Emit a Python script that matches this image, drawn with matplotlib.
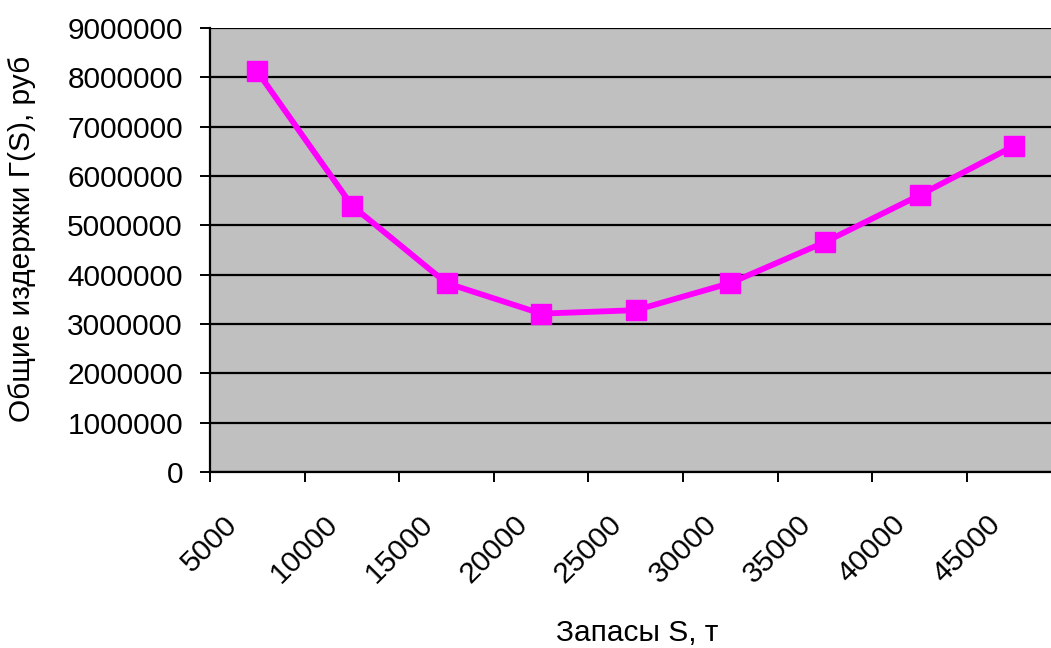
#!/usr/bin/env python3
""" Total costs vs stock level, Excel-style line chart. """

import matplotlib
matplotlib.use("Agg")
import matplotlib.pyplot as plt
from matplotlib.ticker import MultipleLocator, StrMethodFormatter

plt.rcParams["font.family"] = ["Liberation Sans", "DejaVu Sans"]

# data
stock = [7500, 12500, 17500, 22500, 27500, 32500, 37500, 42500, 47500]
costs = [8120000, 5400000, 3830000, 3210000, 3280000, 3830000, 4660000,
         5610000, 6610000]

fig = plt.figure(figsize=(10.51, 6.48), dpi=100)
ax = fig.add_axes([210 / 1051, 1 - 472 / 648, 841 / 1051, 444 / 648])

ax.set_facecolor("#C0C0C0")
ax.plot(stock, costs, color="#FF00FF", linewidth=4.2, marker="s",
        markersize=14.5, zorder=3)

ax.set_xlim(5000, 49450)
ax.set_ylim(0, 9000000)
ax.yaxis.set_major_locator(MultipleLocator(1000000))
ax.yaxis.set_major_formatter(StrMethodFormatter("{x:.0f}"))
ax.set_xticks(range(5000, 45001, 5000))

ax.grid(axis="y", color="black", linewidth=1.6)
ax.set_axisbelow(True)
for side in ("right", "top"):
    ax.spines[side].set_visible(False)
for side in ("left", "bottom"):
    ax.spines[side].set_linewidth(1.6)

ax.tick_params(axis="both", direction="out", length=7.5, width=1.4,
               labelsize=21.5)
ax.tick_params(axis="y", pad=12)
ax.tick_params(axis="x", pad=20)
for lbl in ax.get_xticklabels():
    lbl.set_rotation(45)
    lbl.set_ha("center")
    lbl.set_va("top")

ax.set_xlabel("Запасы S, т", fontsize=21.5, va="center")
ax.xaxis.set_label_coords(0.508, -0.3626)
ax.set_ylabel("Общие издержки Г(S), руб", fontsize=21.5, va="center")
ax.yaxis.set_label_coords(-0.2235, 0.525)

fig.savefig("out.png", dpi=100)
